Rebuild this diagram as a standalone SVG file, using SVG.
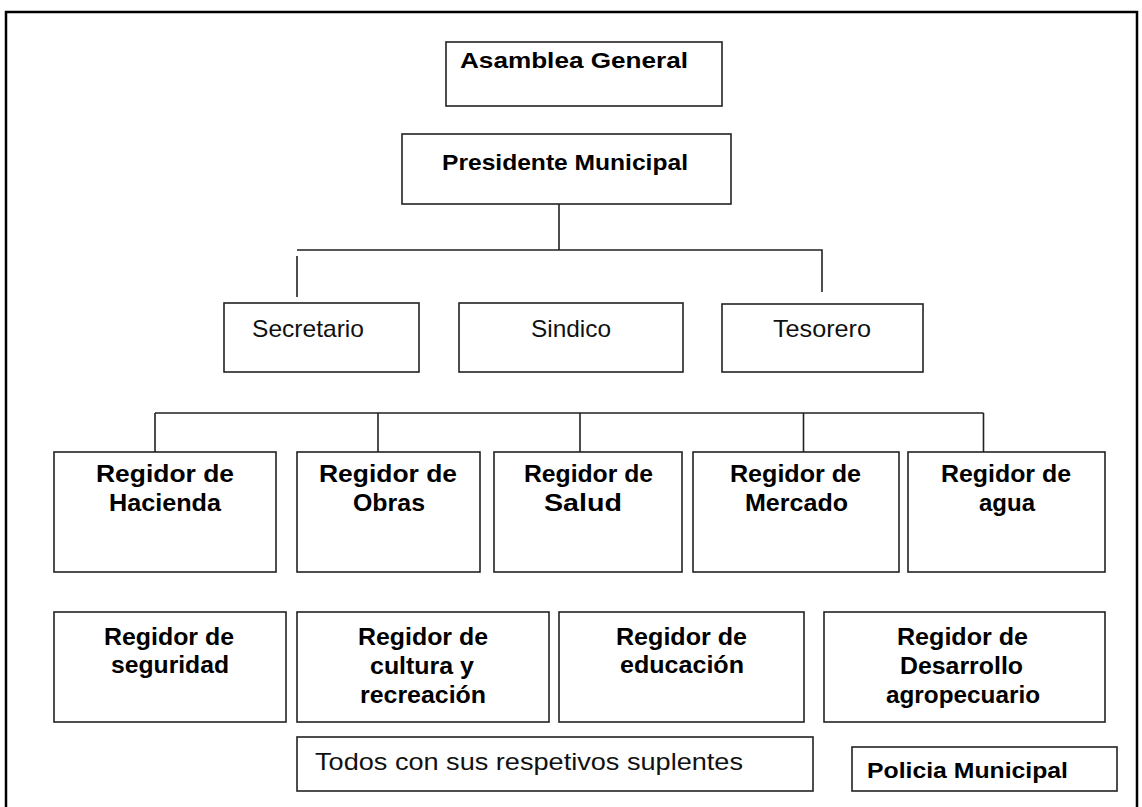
<svg xmlns="http://www.w3.org/2000/svg" width="1142" height="807" viewBox="0 0 1142 807">
<style>
.box{fill:#fff;stroke:#222;stroke-width:1.6}
.frame{fill:none;stroke:#000;stroke-width:2.5}
.con{fill:none;stroke:#222;stroke-width:1.6}
.b{font-family:"Liberation Sans",Arial,sans-serif;font-weight:bold;font-size:23px;fill:#000}
.r{font-family:"Liberation Sans",Arial,sans-serif;font-size:24px;fill:#111}
</style>
<rect width="1142" height="807" fill="#fff"/>
<path class="frame" d="M6,807 V12 H1137 V807"/>
<g id="connectors">
<path class="con" d="M559,204 V250 M297,250 H822 V292 M297,256 V297"/>
<path class="con" d="M155,413 H983.5 M155,413 V452 M378,413 V452 M580,413 V452 M803.5,413 V452 M983.5,413 V452"/>
</g>
<g id="asamblea"><rect class="box" x="446" y="42" width="276" height="64"/><text class="b" x="460" y="68" textLength="228" lengthAdjust="spacingAndGlyphs" style="font-size:22px">Asamblea  General</text></g>
<g id="presidente"><rect class="box" x="402" y="134" width="329" height="70"/><text class="b" x="442" y="170" textLength="246" lengthAdjust="spacingAndGlyphs" style="font-size:22px">Presidente Municipal</text></g>
<g id="secretario"><rect class="box" x="224" y="303" width="195" height="69"/><text class="r" x="252" y="337" textLength="112" lengthAdjust="spacingAndGlyphs">Secretario</text></g>
<g id="sindico"><rect class="box" x="459" y="303" width="224" height="69"/><text class="r" x="531" y="337" textLength="80" lengthAdjust="spacingAndGlyphs">Sindico</text></g>
<g id="tesorero"><rect class="box" x="722" y="304" width="201" height="68"/><text class="r" x="773" y="337" textLength="98" lengthAdjust="spacingAndGlyphs">Tesorero</text></g>
<g id="hacienda"><rect class="box" x="54" y="452" width="222" height="120"/><text class="b" x="96" y="482" textLength="138" lengthAdjust="spacingAndGlyphs">Regidor  de</text><text class="b" x="109" y="511" textLength="112" lengthAdjust="spacingAndGlyphs">Hacienda</text></g>
<g id="obras"><rect class="box" x="297" y="452" width="183" height="120"/><text class="b" x="319" y="482" textLength="138" lengthAdjust="spacingAndGlyphs">Regidor  de</text><text class="b" x="353" y="511" textLength="72" lengthAdjust="spacingAndGlyphs">Obras</text></g>
<g id="salud"><rect class="box" x="494" y="452" width="188" height="120"/><text class="b" x="524" y="482" textLength="129" lengthAdjust="spacingAndGlyphs">Regidor de</text><text class="b" x="544" y="511" textLength="78" lengthAdjust="spacingAndGlyphs">Salud</text></g>
<g id="mercado"><rect class="box" x="693" y="452" width="206" height="120"/><text class="b" x="730" y="482" textLength="131" lengthAdjust="spacingAndGlyphs">Regidor de</text><text class="b" x="745" y="511" textLength="103" lengthAdjust="spacingAndGlyphs">Mercado</text></g>
<g id="agua"><rect class="box" x="908" y="452" width="197" height="120"/><text class="b" x="941" y="482" textLength="130" lengthAdjust="spacingAndGlyphs">Regidor de</text><text class="b" x="979" y="511" textLength="56" lengthAdjust="spacingAndGlyphs">agua</text></g>
<g id="seguridad"><rect class="box" x="54" y="612" width="232" height="110"/><text class="b" x="104" y="645" textLength="130" lengthAdjust="spacingAndGlyphs">Regidor de</text><text class="b" x="111" y="673" textLength="118" lengthAdjust="spacingAndGlyphs">seguridad</text></g>
<g id="cultura"><rect class="box" x="297" y="612" width="252" height="110"/><text class="b" x="358" y="645" textLength="130" lengthAdjust="spacingAndGlyphs">Regidor de</text><text class="b" x="370" y="674" textLength="104" lengthAdjust="spacingAndGlyphs">cultura y</text><text class="b" x="360" y="703" textLength="126" lengthAdjust="spacingAndGlyphs">recreación</text></g>
<g id="educacion"><rect class="box" x="559" y="612" width="245" height="110"/><text class="b" x="616" y="645" textLength="131" lengthAdjust="spacingAndGlyphs">Regidor de</text><text class="b" x="620" y="673" textLength="124" lengthAdjust="spacingAndGlyphs">educación</text></g>
<g id="desarrollo"><rect class="box" x="824" y="612" width="281" height="110"/><text class="b" x="897" y="645" textLength="131" lengthAdjust="spacingAndGlyphs">Regidor de</text><text class="b" x="900" y="674" textLength="123" lengthAdjust="spacingAndGlyphs">Desarrollo</text><text class="b" x="886" y="703" textLength="154" lengthAdjust="spacingAndGlyphs">agropecuario</text></g>
<g id="todos"><rect class="box" x="297" y="737" width="516" height="54"/><text class="r" x="315" y="770" textLength="428" lengthAdjust="spacingAndGlyphs">Todos con sus respetivos suplentes</text></g>
<g id="policia"><rect class="box" x="852" y="747" width="265" height="44"/><text class="b" x="867" y="778" textLength="201" lengthAdjust="spacingAndGlyphs" style="font-size:22px">Policia Municipal</text></g>
</svg>
